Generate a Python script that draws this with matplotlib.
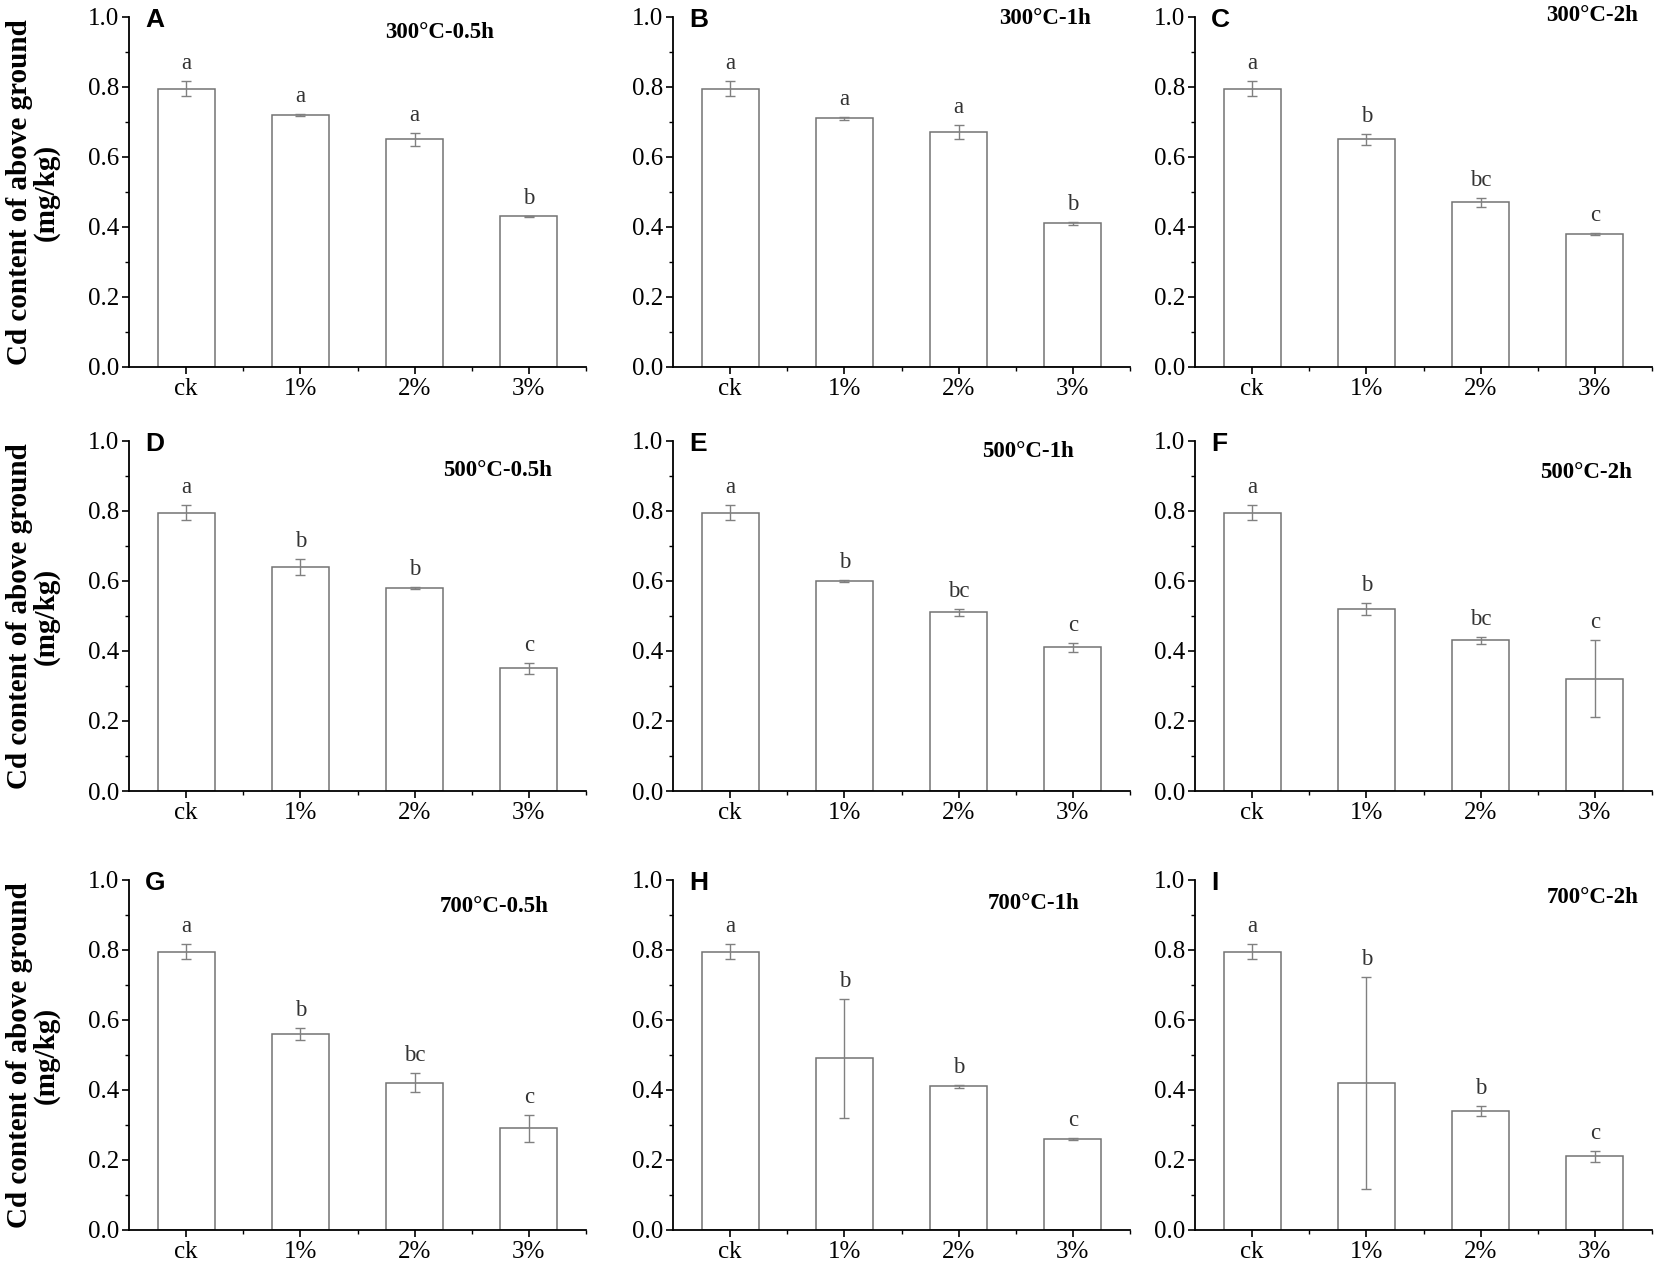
import matplotlib
import matplotlib.pyplot as plt
from matplotlib.ticker import MultipleLocator, FixedLocator

matplotlib.use("Agg")
matplotlib.rcParams.update(
    {
        "font.family": ["Liberation Serif", "DejaVu Serif"],
        "font.size": 16,
        "axes.linewidth": 1.3,
    }
)

# x categories (biochar dose)
categories = ["ck", "1%", "2%", "3%"]

# Cd content (mg/kg), error bars and significance letters, one set per panel
mean_300_05 = [0.795, 0.72, 0.65, 0.43]
err_300_05 = [0.022, 0.002, 0.018, 0.002]
sig_300_05 = ["a", "a", "a", "b"]

mean_300_1 = [0.795, 0.71, 0.67, 0.41]
err_300_1 = [0.022, 0.003, 0.02, 0.003]
sig_300_1 = ["a", "a", "a", "b"]

mean_300_2 = [0.795, 0.65, 0.47, 0.38]
err_300_2 = [0.022, 0.016, 0.014, 0.003]
sig_300_2 = ["a", "b", "bc", "c"]

mean_500_05 = [0.795, 0.64, 0.58, 0.35]
err_500_05 = [0.022, 0.022, 0.002, 0.017]
sig_500_05 = ["a", "b", "b", "c"]

mean_500_1 = [0.795, 0.60, 0.51, 0.41]
err_500_1 = [0.022, 0.002, 0.011, 0.012]
sig_500_1 = ["a", "b", "bc", "c"]

mean_500_2 = [0.795, 0.52, 0.43, 0.32]
err_500_2 = [0.022, 0.017, 0.009, 0.11]
sig_500_2 = ["a", "b", "bc", "c"]

mean_700_05 = [0.795, 0.56, 0.42, 0.29]
err_700_05 = [0.022, 0.017, 0.027, 0.039]
sig_700_05 = ["a", "b", "bc", "c"]

mean_700_1 = [0.795, 0.49, 0.41, 0.26]
err_700_1 = [0.022, 0.17, 0.005, 0.003]
sig_700_1 = ["a", "b", "b", "c"]

mean_700_2 = [0.795, 0.42, 0.34, 0.21]
err_700_2 = [0.022, 0.303, 0.013, 0.017]
sig_700_2 = ["a", "b", "b", "c"]

panel_tags = ["A", "B", "C", "D", "E", "F", "G", "H", "I"]
panel_titles = [
    "300°C-0.5h", "300°C-1h", "300°C-2h",
    "500°C-0.5h", "500°C-1h", "500°C-2h",
    "700°C-0.5h", "700°C-1h", "700°C-2h",
]
panel_means = [mean_300_05, mean_300_1, mean_300_2,
               mean_500_05, mean_500_1, mean_500_2,
               mean_700_05, mean_700_1, mean_700_2]
panel_errs = [err_300_05, err_300_1, err_300_2,
              err_500_05, err_500_1, err_500_2,
              err_700_05, err_700_1, err_700_2]
panel_sigs = [sig_300_05, sig_300_1, sig_300_2,
              sig_500_05, sig_500_1, sig_500_2,
              sig_700_05, sig_700_1, sig_700_2]

YLABEL = "Cd content of above ground\n(mg/kg)"

# layout (figure fractions)
col_left = [0.078, 0.4069, 0.7225]
row_bottom = [0.7099, 0.3747, 0.0277]
ax_w, ax_h = 0.2763, 0.2767
# where the condition label sits inside each panel (axes fraction)
title_xy = [(0.68, 0.955), (0.814, 0.995), (0.869, 1.005),
            (0.807, 0.917), (0.777, 0.969), (0.856, 0.909),
            (0.80, 0.923), (0.79, 0.934), (0.87, 0.949)]

BAR_EDGE = "#737373"
ERR_COLOR = "#808080"


def plot_panel(ax, means, errs, sigs, tag, title, txy):
    x = list(range(len(categories)))
    ax.bar(x, means, width=0.5, color="white", edgecolor=BAR_EDGE,
           linewidth=1.1, zorder=2)
    ax.errorbar(x, means, yerr=errs, fmt="none", ecolor=ERR_COLOR,
                elinewidth=1.0, capsize=3.5, capthick=1.0, zorder=3)
    for xi, m, e, s in zip(x, means, errs, sigs):
        ax.text(xi, m + e + 0.05, s, ha="center", va="center",
                fontsize=16.5, color="#333333")

    ax.set_xlim(-0.5, 3.5)
    ax.set_ylim(0, 1.0)
    ax.set_xticks(x)
    ax.set_xticklabels(categories)
    ax.xaxis.set_minor_locator(FixedLocator([0.5, 1.5, 2.5, 3.5]))
    ax.yaxis.set_major_locator(MultipleLocator(0.2))
    ax.yaxis.set_minor_locator(MultipleLocator(0.1))
    ax.yaxis.set_major_formatter(matplotlib.ticker.FormatStrFormatter("%.1f"))
    ax.tick_params(which="major", direction="out", length=5, width=1.2,
                   labelsize=18, pad=2)
    ax.tick_params(which="minor", direction="out", length=3, width=1.0)
    ax.tick_params(axis="x", which="major", pad=3)
    for side in ["top", "right"]:
        ax.spines[side].set_visible(False)

    ax.text(0.035, 0.99, tag, transform=ax.transAxes, ha="left", va="center",
            fontsize=19, fontweight="bold",
            family=["Liberation Sans", "DejaVu Sans"])
    ax.text(txy[0], txy[1], title, transform=ax.transAxes, ha="center",
            va="center", fontsize=16.5, fontweight="bold")


fig = plt.figure(figsize=(16.54, 12.65), dpi=100)

for i in range(9):
    r, c = divmod(i, 3)
    ax = fig.add_axes([col_left[c], row_bottom[r], ax_w, ax_h])
    plot_panel(ax, panel_means[i], panel_errs[i], panel_sigs[i],
               panel_tags[i], panel_titles[i], title_xy[i])

for r in range(3):
    yc = row_bottom[r] + ax_h / 2
    fig.text(0.020, yc, YLABEL, rotation=90, ha="center", va="center",
             fontsize=21, fontweight="bold", linespacing=1.0,
             multialignment="center")

fig.savefig("out.png", dpi=100)
plt.close(fig)
